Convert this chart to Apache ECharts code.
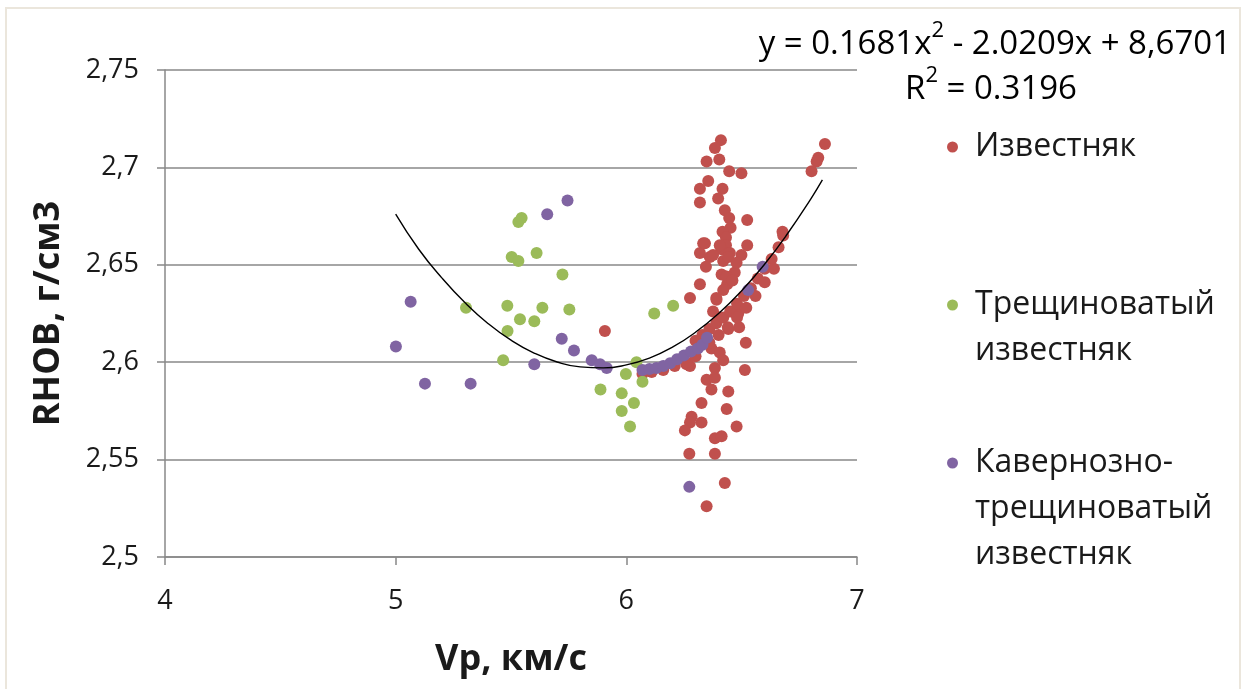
<!DOCTYPE html>
<html>
<head>
<meta charset="utf-8">
<script src="https://cdn.jsdelivr.net/npm/echarts@6/dist/echarts.min.js"></script>
<style>
html,body{margin:0;padding:0;background:#fff;}
#chart{width:1250px;height:689px;}
</style>
</head>
<body>
<div id="chart"></div>
<script>
// ---- Data ----
var seriesNames = ['Известняк', 'Трещиноватый известняк', 'Кавернозно-трещиноватый известняк'];
var legendLabels = ['Известняк', 'Трещиноватый\nизвестняк', 'Кавернозно-\nтрещиноватый\nизвестняк'];

var xTicks = [4, 5, 6, 7];
var yTicks = [2.5, 2.55, 2.6, 2.65, 2.7, 2.75];

// Известняк (limestone)
var limestone = [
  [6.410,2.714],[6.384,2.710],[6.348,2.703],[6.403,2.704],[6.446,2.698],[6.499,2.697],
  [6.355,2.693],[6.319,2.689],[6.417,2.689],[6.398,2.684],[6.319,2.682],[6.427,2.678],
  [6.446,2.674],[6.524,2.673],[6.452,2.669],[6.417,2.667],[6.432,2.664],[6.677,2.667],
  [6.333,2.661],[6.432,2.660],[6.413,2.658],[6.449,2.656],[6.524,2.660],[6.319,2.656],
  [6.362,2.654],[6.499,2.655],[6.345,2.649],[6.420,2.652],[6.442,2.654],[6.413,2.645],
  [6.470,2.646],[6.319,2.640],[6.276,2.633],[6.437,2.640],[6.420,2.637],[6.391,2.632],
  [6.376,2.626],[6.405,2.623],[6.861,2.712],[6.832,2.705],[6.825,2.703],[6.803,2.698],
  [6.376,2.655],[6.478,2.651],[6.405,2.660],[6.435,2.644],[6.460,2.642],[6.390,2.633],
  [6.341,2.661],
  [6.485,2.625],[6.489,2.618],[6.442,2.617],[6.518,2.610],[6.369,2.607],[6.405,2.605],
  [6.420,2.601],[6.261,2.599],[6.276,2.598],[6.384,2.597],[6.514,2.596],[6.348,2.591],
  [6.384,2.592],[6.369,2.586],[6.442,2.585],[6.326,2.579],[6.435,2.576],[6.283,2.572],
  [6.276,2.569],[6.326,2.569],[6.254,2.565],[6.478,2.567],[6.384,2.561],[6.413,2.562],
  [6.273,2.553],[6.384,2.553],[6.427,2.538],[6.348,2.526],[5.907,2.616],
  [6.300,2.611],[6.330,2.614],[6.360,2.617],[6.390,2.620],[6.420,2.623],[6.450,2.626],
  [6.480,2.630],[6.510,2.634],[6.540,2.638],[6.570,2.643],[6.600,2.648],[6.630,2.653],
  [6.660,2.659],[6.680,2.665],
  [6.360,2.610],[6.400,2.614],[6.440,2.618],[6.480,2.623],[6.520,2.628],[6.560,2.634],
  [6.600,2.641],[6.640,2.648],
  [6.070,2.594],[6.110,2.595],[6.160,2.596],[6.210,2.598],[6.260,2.600],[6.300,2.603]
];

// Трещиноватый известняк (fractured limestone)
var fractured = [
  [5.532,2.672],[5.546,2.674],[5.503,2.654],[5.532,2.652],[5.611,2.656],[5.723,2.645],
  [5.305,2.628],[5.484,2.629],[5.636,2.628],[5.753,2.627],[5.539,2.622],[5.601,2.621],
  [5.485,2.616],[5.466,2.601],[6.121,2.625],[6.203,2.629],[6.044,2.600],[5.998,2.594],
  [6.070,2.590],[5.888,2.586],[5.980,2.584],[6.033,2.579],[5.980,2.575],[6.016,2.567]
];

// Кавернозно-трещиноватый известняк (cavernous-fractured limestone)
var cavernous = [
  [5.745,2.683],[5.657,2.676],[5.065,2.631],[5.001,2.608],[5.127,2.589],[5.325,2.589],
  [5.601,2.599],[5.720,2.612],[5.773,2.606],[5.850,2.601],[5.886,2.599],[5.915,2.597],
  [6.273,2.536],[6.528,2.637],[6.591,2.649],
  [6.070,2.596],[6.100,2.5965],[6.130,2.597],[6.160,2.598],[6.190,2.5995],[6.220,2.6015],
  [6.250,2.6035],[6.280,2.6055],[6.310,2.607],[6.330,2.609],[6.350,2.6125]
];

// Polynomial trendline, values
var trendCurve = [
  [5.00,2.6760],[5.10,2.6580],[5.20,2.6433],[5.30,2.6306],[5.40,2.6199],[5.50,2.6113],
  [5.60,2.6047],[5.70,2.6001],[5.80,2.5976],[5.90,2.5971],[6.00,2.5986],[6.10,2.6021],
  [6.20,2.6077],[6.30,2.6154],[6.40,2.6250],[6.50,2.6367],[6.60,2.6504],[6.70,2.6662],
  [6.80,2.6839],[6.85,2.6936]
];

var equationText = '{n|y = 0.1681x}{s|2}{n| - 2.0209x + 8,6701}';
var r2Text = '{n|R}{s|2}{n| = 0.3196}';

// ---- Chart ----
var FONT = 'Open Sans';
var TXT = '#1a1a1a';
var colors = ['#C0504D', '#9BBB59', '#8064A2'];
var chart = echarts.init(document.getElementById('chart'), null, {renderer: 'canvas'});

var lh = 46;
var legendTops = [124, 236, 348];
var legends = legendLabels.map(function (lab, i) {
  var lines = lab.split('\n');
  var pad = [];
  for (var k = 1; k < lines.length; k++) pad.push('\u00a0');
  var shown = pad.concat(lines).join('\n');
  return {
    data: [seriesNames[i]],
    left: 947,
    top: legendTops[i],
    padding: 0,
    orient: 'vertical',
    icon: 'circle',
    itemWidth: 11,
    itemHeight: 11,
    selectedMode: false,
    formatter: function () { return shown; },
    textStyle: {
      fontFamily: FONT, fontSize: 32, color: TXT,
      lineHeight: lh, padding: [0, 0, 0, 12]
    }
  };
});

var richStyle = {
  n: {fontFamily: FONT, fontSize: 33, color: TXT, lineHeight: 42, verticalAlign: 'bottom'},
  s: {fontFamily: FONT, fontSize: 22, color: TXT, lineHeight: 42, verticalAlign: 'top', padding: [1, 0, 0, 0]}
};

var option = {
  backgroundColor: '#ffffff',
  animation: false,
  color: colors,
  grid: {left: 165, right: 393, top: 70, bottom: 132, containLabel: false},
  legend: legends,
  xAxis: {
    type: 'value', min: xTicks[0], max: xTicks[xTicks.length - 1], interval: 1,
    name: 'Vp, км/с', nameLocation: 'middle', nameGap: 85,
    nameTextStyle: {fontFamily: FONT, fontSize: 36, fontWeight: 'bold', color: TXT},
    axisLine: {show: true, onZero: false, lineStyle: {color: '#888888', width: 1.5}},
    axisTick: {show: true, length: 8, lineStyle: {color: '#888888', width: 1.5}},
    axisLabel: {fontFamily: FONT, fontSize: 27, color: TXT, margin: 31},
    splitLine: {show: false}
  },
  yAxis: {
    type: 'value', min: yTicks[0], max: yTicks[yTicks.length - 1], interval: 0.05,
    name: 'RHOB, г/см3', nameLocation: 'middle', nameGap: 98, nameRotate: 90,
    nameTextStyle: {fontFamily: FONT, fontSize: 36, fontWeight: 'bold', color: TXT},
    axisLine: {show: true, onZero: false, lineStyle: {color: '#888888', width: 1.5}},
    axisTick: {show: true, length: 8, lineStyle: {color: '#888888', width: 1.5}},
    axisLabel: {
      fontFamily: FONT, fontSize: 27, color: TXT, margin: 26,
      formatter: function (v) { return String(+v.toFixed(2)).replace('.', ','); }
    },
    splitLine: {show: true, lineStyle: {color: '#888888', width: 1.5}}
  },
  graphic: [
    {type: 'rect', shape: {x: 6, y: 8, width: 1234, height: 700}, style: {fill: 'none', stroke: '#ebe6dc', lineWidth: 2}, silent: true, z: -1},
    {type: 'text', x: 1231, y: 40, style: {text: equationText, rich: richStyle, align: 'right', verticalAlign: 'middle'}},
    {type: 'text', x: 991, y: 85, style: {text: r2Text, rich: richStyle, align: 'center', verticalAlign: 'middle'}}
  ],
  series: [
    {name: seriesNames[0], type: 'scatter', data: limestone, symbolSize: 12, itemStyle: {color: colors[0], opacity: 1}},
    {name: seriesNames[1], type: 'scatter', data: fractured, symbolSize: 12, itemStyle: {color: colors[1], opacity: 1}},
    {name: seriesNames[2], type: 'scatter', data: cavernous, symbolSize: 12, itemStyle: {color: colors[2], opacity: 1}},
    {name: 'trend', type: 'line', data: trendCurve, smooth: true, showSymbol: false, symbol: 'none',
     lineStyle: {color: '#000000', width: 1.4}, z: 5, silent: true}
  ]
};
chart.setOption(option);
</script>
</body>
</html>
